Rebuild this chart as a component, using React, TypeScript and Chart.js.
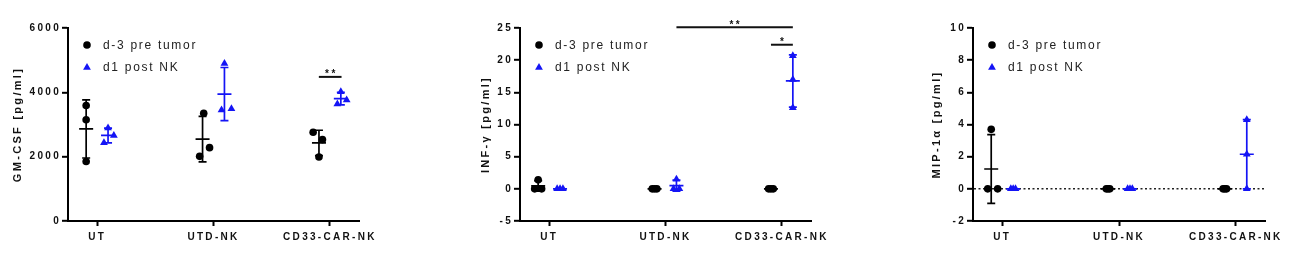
import React, { useEffect, useRef } from 'react';
import { Chart, registerables } from 'chart.js';

Chart.register(...registerables);

const FONT = '"Liberation Sans", Arial, Helvetica, sans-serif';
Chart.defaults.font.family = FONT;

// ---------- data ----------
const categories = ['UT', 'UTD-NK', 'CD33-CAR-NK'];
const seriesLabels = ['d-3 pre tumor', 'd1 post NK'];

// GM-CSF [pg/ml]
const gmcsfPre = [[3590, 3150, 1850], [3350, 2280, 2010], [2760, 2530, 1990]];
const gmcsfPost = [[2890, 2430, 2660], [4900, 3450, 3490], [4020, 3640, 3760]];
const gmcsfPreJitter = [[0, 0, 0], [0.01, 0.06, -0.025], [-0.05, 0.03, 0]];
const gmcsfPostJitter = [[0, -0.035, 0.05], [0, -0.025, 0.06], [0, -0.03, 0.05]];
const gmcsfTicks = [0, 2000, 4000, 6000];
const gmcsfSig = [{ from: 1.905, to: 2.1, y: 4480, label: '**' }];

// INF-γ [pg/ml]
const infgPre = [[1.4, 0, 0], [0, 0, 0], [0, 0, 0]];
const infgPost = [[0, 0, 0], [1.5, 0, 0], [20.7, 17.0, 12.6]];
const infgPreJitter = [[0, -0.03, 0.03], [-0.02, 0, 0.02], [-0.02, 0, 0.02]];
const infgPostJitter = [[-0.025, 0, 0.025], [0, -0.025, 0.025], [0, 0, 0]];
const infgTicks = [-5, 0, 5, 10, 15, 20, 25];
const infgSig = [
  { from: 1.094, to: 2.094, y: 25.1, label: '**' },
  { from: 1.906, to: 2.094, y: 22.4, label: '*' },
];

// MIP-1α [pg/ml]
const mipPre = [[3.7, 0, 0], [0, 0, 0], [0, 0, 0]];
const mipPost = [[0, 0, 0], [0, 0, 0], [4.3, 2.15, 0]];
const mipPreJitter = [[0, -0.03, 0.055], [-0.015, 0, 0.015], [-0.015, 0, 0.015]];
const mipPostJitter = [[-0.02, 0, 0.02], [-0.02, 0, 0.02], [0, 0, 0]];
const mipTicks = [-2, 0, 2, 4, 6, 8, 10];

// ---------- style ----------
const BLACK = '#000000';
const BLUE = '#1414f5';
const PRE_OFFSET = -0.094;
const POST_OFFSET = 0.094;

type PanelCfg = {
  title: string;
  pre: number[][];
  post: number[][];
  preJ: number[][];
  postJ: number[][];
  ticks: number[];
  sig: { from: number; to: number; y: number; label: string }[];
  zeroLine: boolean;
  titlePad: number;
  left: number;
  padRight: number;
};

const panels: PanelCfg[] = [
  { title: 'GM-CSF [pg/ml]', pre: gmcsfPre, post: gmcsfPost, preJ: gmcsfPreJitter, postJ: gmcsfPostJitter, ticks: gmcsfTicks, sig: gmcsfSig, zeroLine: false, titlePad: 11.4, left: 0, padRight: 93 },
  { title: 'INF-γ [pg/ml]', pre: infgPre, post: infgPost, preJ: infgPreJitter, postJ: infgPostJitter, ticks: infgTicks, sig: infgSig, zeroLine: false, titlePad: 27.4, left: 452, padRight: 93 },
  { title: 'MIP-1α [pg/ml]', pre: mipPre, post: mipPost, preJ: mipPreJitter, postJ: mipPostJitter, ticks: mipTicks, sig: [], zeroLine: true, titlePad: 25.1, left: 905, padRight: 92 },
];

function toPoints(groups: number[][], jitter: number[][], offset: number) {
  const pts: { x: number; y: number }[] = [];
  groups.forEach((g, ci) => g.forEach((v, k) => pts.push({ x: ci + offset + jitter[ci][k], y: v })));
  return pts;
}

const spacingPlugin = {
  id: 'spacing',
  beforeDraw(chart: any) {
    chart.ctx.letterSpacing = '2.3px';
  },
};

const errorBarPlugin = {
  id: 'errorBars',
  afterDatasetsDraw(chart: any) {
    const { ctx } = chart;
    const xs = chart.scales.x;
    const ys = chart.scales.y;
    chart.data.datasets.forEach((ds: any) => {
      if (!ds.groups) return;
      ctx.save();
      ctx.strokeStyle = ds.borderColor;
      ctx.lineWidth = 1.7;
      ds.groups.forEach((g: number[], ci: number) => {
        const n = g.length;
        const mean = g.reduce((a, b) => a + b, 0) / n;
        const sd = Math.sqrt(g.reduce((a, b) => a + (b - mean) * (b - mean), 0) / (n - 1));
        const cx = xs.getPixelForValue(ci + ds.groupOffset);
        const yt = ys.getPixelForValue(mean + sd);
        const yb = ys.getPixelForValue(mean - sd);
        const ym = ys.getPixelForValue(mean);
        ctx.beginPath();
        ctx.moveTo(cx, yt); ctx.lineTo(cx, yb);
        ctx.moveTo(cx - 4, yt); ctx.lineTo(cx + 4, yt);
        ctx.moveTo(cx - 4, yb); ctx.lineTo(cx + 4, yb);
        ctx.moveTo(cx - 7, ym); ctx.lineTo(cx + 7, ym);
        ctx.stroke();
      });
      ctx.restore();
    });
  },
};

function drawMarker(ctx: any, style: string, x: number, y: number, r: number) {
  ctx.beginPath();
  if (style === 'triangle') {
    ctx.moveTo(x, y - r);
    ctx.lineTo(x - r * Math.sin(Math.PI / 3), y + r / 2);
    ctx.lineTo(x + r * Math.sin(Math.PI / 3), y + r / 2);
    ctx.closePath();
  } else {
    ctx.arc(x, y, r, 0, Math.PI * 2);
  }
  ctx.fill();
}

const overlayPlugin = {
  id: 'overlay',
  afterDraw(chart: any) {
    const { ctx, chartArea } = chart;
    const xs = chart.scales.x;
    const ys = chart.scales.y;
    ctx.save();
    // legend inside plot area
    const items = chart.data.datasets.filter((d: any) => d.groups);
    items.forEach((d: any, i: number) => {
      const cy = chartArea.top + 17 + i * 22.5;
      ctx.fillStyle = d.backgroundColor;
      drawMarker(ctx, d.pointStyle, chartArea.left + 19, cy, d.pointStyle === 'triangle' ? 4.5 : 3.8);
      ctx.letterSpacing = '1.7px';
      ctx.font = `12px ${FONT}`;
      ctx.fillStyle = '#222';
      ctx.textAlign = 'left';
      ctx.textBaseline = 'middle';
      ctx.fillText(d.label, chartArea.left + 35, cy + 0.5);
    });
    // significance labels
    chart.data.datasets.forEach((d: any) => {
      if (!d.sigLabel) return;
      const x1 = xs.getPixelForValue(d.data[0].x);
      const x2 = xs.getPixelForValue(d.data[1].x);
      const y = ys.getPixelForValue(d.data[0].y);
      ctx.letterSpacing = '2.5px';
      ctx.font = `bold 10px ${FONT}`;
      ctx.fillStyle = '#111';
      ctx.textAlign = 'center';
      ctx.textBaseline = 'alphabetic';
      ctx.fillText(d.sigLabel, (x1 + x2) / 2 + 1.2, y + 0.5);
    });
    ctx.restore();
  },
};

function Panel({ cfg }: { cfg: PanelCfg }) {
  const ref = useRef<HTMLCanvasElement | null>(null);
  useEffect(() => {
    if (!ref.current) return;
    const datasets: any[] = [
      {
        type: 'scatter',
        label: seriesLabels[0],
        data: toPoints(cfg.pre, cfg.preJ, PRE_OFFSET),
        pointStyle: 'circle',
        pointRadius: 3.8,
        backgroundColor: BLACK,
        borderColor: BLACK,
        borderWidth: 0,
        groups: cfg.pre,
        groupOffset: PRE_OFFSET,
      },
      {
        type: 'scatter',
        label: seriesLabels[1],
        data: toPoints(cfg.post, cfg.postJ, POST_OFFSET),
        pointStyle: 'triangle',
        pointRadius: 4.5,
        backgroundColor: BLUE,
        borderColor: BLUE,
        borderWidth: 0,
        groups: cfg.post,
        groupOffset: POST_OFFSET,
      },
      ...cfg.sig.map((s) => ({
        type: 'line',
        label: s.label,
        data: [{ x: s.from, y: s.y }, { x: s.to, y: s.y }],
        borderColor: '#111',
        borderWidth: 2,
        pointRadius: 0,
        showLine: true,
        clip: false,
        sigLabel: s.label,
      })),
    ];
    const zero = cfg.zeroLine;
    const chart = new Chart(ref.current, {
      type: 'scatter',
      data: { datasets },
      options: {
        animation: false,
        responsive: false,
        devicePixelRatio: 1,
        layout: { padding: { left: 0, right: cfg.padRight, top: 28, bottom: 0 } },
        plugins: { legend: { display: false }, tooltip: { enabled: false } },
        scales: {
          x: {
            type: 'linear',
            min: -0.25,
            max: 2.25,
            afterBuildTicks: (s: any) => { s.ticks = categories.map((_, i) => ({ value: i })); },
            afterFit: (s: any) => { s.height = 34; },
            ticks: {
              callback: (v: any) => categories[v] ?? '',
              font: { size: 10, weight: 'bold' },
              color: '#111',
              padding: 5,
              maxRotation: 0,
              autoSkip: false,
            },
            grid: { drawOnChartArea: false, tickLength: 5, tickWidth: 2, tickColor: BLACK },
            border: { color: BLACK, width: 2 },
          },
          y: {
            min: cfg.ticks[0],
            max: cfg.ticks[cfg.ticks.length - 1],
            afterBuildTicks: (s: any) => { s.ticks = cfg.ticks.map((v) => ({ value: v })); },
            afterFit: (s: any) => { s.width = 68; },
            ticks: {
              callback: (v: any) => String(v),
              font: { size: 10, weight: 'bold' },
              color: '#111',
              padding: 1,
            },
            title: {
              display: true,
              text: cfg.title,
              font: { size: 11, weight: 'bold' },
              color: '#111',
              padding: cfg.titlePad,
            },
            grid: {
              drawOnChartArea: zero,
              color: (c: any) => (zero && c.tick && c.tick.value === 0 ? '#222' : 'rgba(0,0,0,0)'),
              lineWidth: 1.6,
              tickLength: 6,
              tickWidth: 2,
              tickColor: BLACK,
            },
            border: { color: BLACK, width: 2, dash: zero ? [2, 2.5] : [] },
          },
        },
      } as any,
      plugins: [spacingPlugin, errorBarPlugin, overlayPlugin],
    } as any);
    return () => chart.destroy();
  }, [cfg]);
  return (
    <canvas
      ref={ref}
      width={452}
      height={255}
      style={{ position: 'absolute', left: cfg.left, top: 0, width: 452, height: 255 }}
    />
  );
}

export default function App() {
  return (
    <div
      style={{
        position: 'fixed',
        left: 0,
        top: 0,
        width: 1298,
        height: 255,
        background: '#ffffff',
        overflow: 'hidden',
      }}
    >
      {panels.map((p, i) => (
        <Panel key={i} cfg={p} />
      ))}
    </div>
  );
}
